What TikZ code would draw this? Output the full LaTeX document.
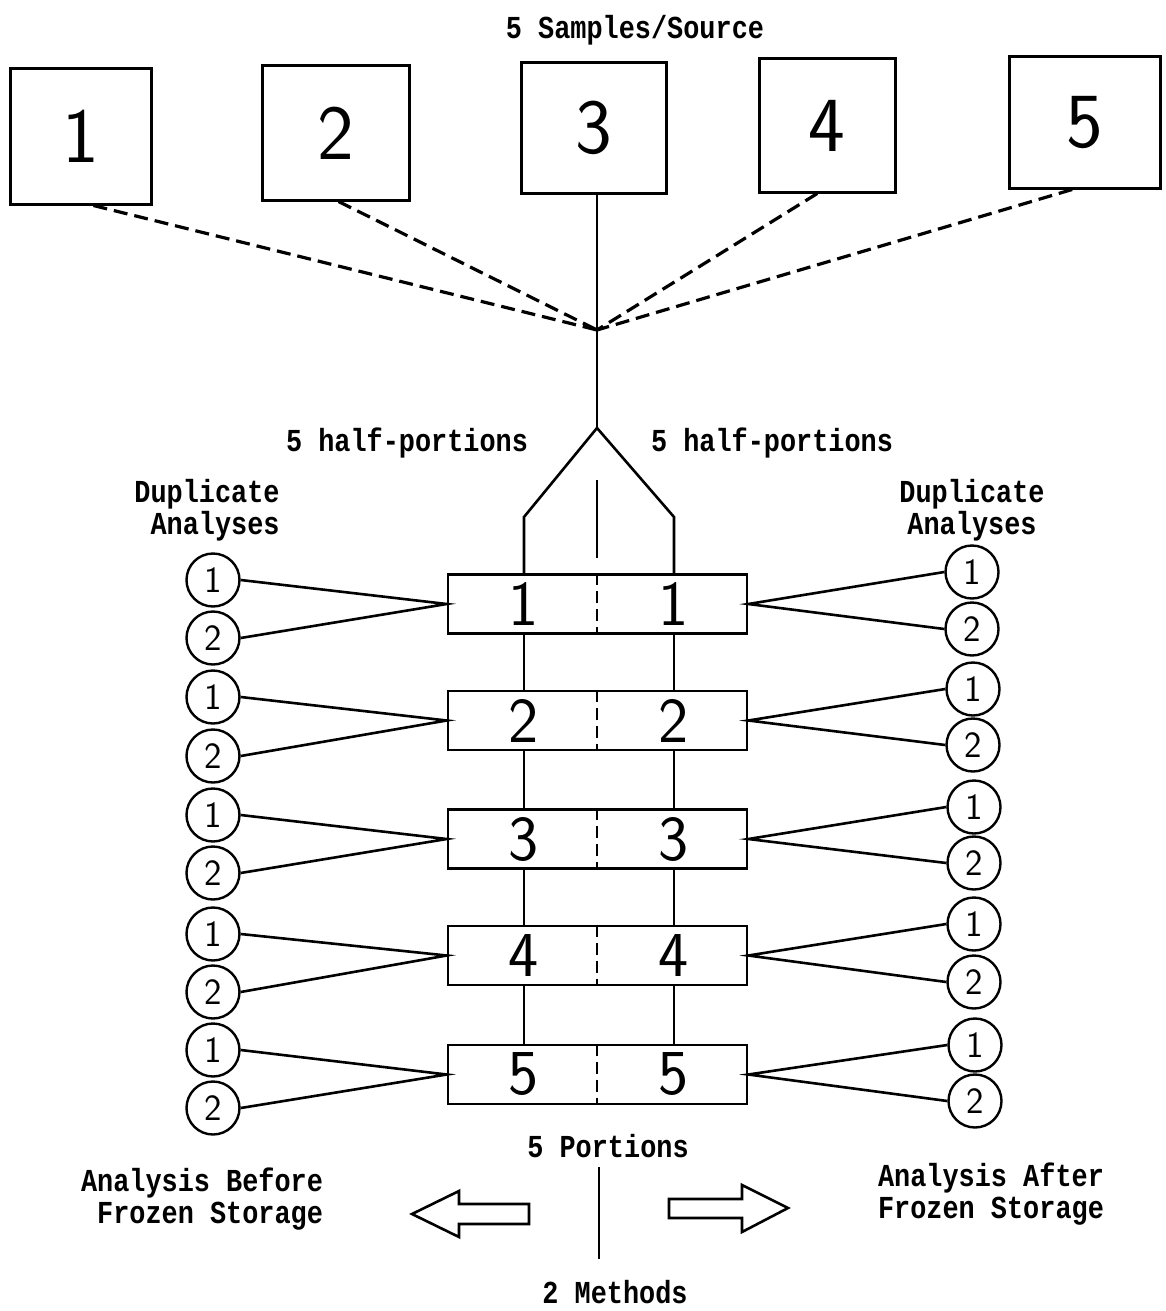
\documentclass[tikz,border=0pt]{standalone}
\usepackage{fontspec}
\usetikzlibrary{calc}
\newfontfamily\twfont{Liberation Mono}[FakeStretch=0.84]
\begin{document}
\begin{tikzpicture}[x=1pt,y=-1pt,
  line join=miter,
  topbox/.style={draw,line width=3pt,inner sep=0pt,font=\sffamily\fontsize{78}{80}\selectfont},
  portbox/.style={draw,line width=2.6pt,inner sep=0pt,minimum width=299pt,minimum height=59pt},
  pdigit/.style={font=\sffamily\fontsize{64}{66}\selectfont,inner sep=0pt},
  circ/.style={draw,circle,line width=2.4pt,minimum size=53pt,inner sep=0pt,font=\sffamily\fontsize{37}{39}\selectfont},
  lab/.style={font=\twfont\bfseries\fontsize{32}{32}\selectfont,inner sep=0pt,align=center},
  conn/.style={line width=2.6pt},
  dashline/.style={line width=3.2pt,dash pattern=on 14pt off 7pt},
  divider/.style={line width=1.8pt,dash pattern=on 12pt off 6pt}]
\useasboundingbox (0,0) rectangle (1165,1311);
\fill[white] (0,0) rectangle (1165,1311);

% title
\node[lab] (title) at (635,30) {5 Samples/Source};

% top sample boxes
\node[topbox,minimum width=141pt,minimum height=135pt] (b1) at (80.5,136.5) {1};
\node[topbox,minimum width=147pt,minimum height=134pt] (b2) at (335.5,133) {2};
\node[topbox,minimum width=145pt,minimum height=130pt] (b3) at (593.5,128) {3};
\node[topbox,minimum width=136pt,minimum height=133pt] (b4) at (827,125.5) {4};
\node[topbox,minimum width=151pt,minimum height=131pt] (b5) at (1084.5,122.5) {5};

% convergence and split
\coordinate (conv) at (597,330);
\coordinate (apex) at (597,428);
\coordinate (lbend) at (524,517);
\coordinate (rbend) at (674,517);
\coordinate (ctop) at (597,480);
\coordinate (cbot) at (597,558);

\draw[dashline] ($(b1.south west)!0.59!(b1.south east)$) -- (conv);
\draw[dashline] ($(b2.south west)!0.52!(b2.south east)$) -- (conv);
\draw[dashline] ($(b4.south west)!0.43!(b4.south east)$) -- (conv);
\draw[dashline] ($(b5.south west)!0.42!(b5.south east)$) -- (conv);
\draw[conn] (b3.south -| conv) -- (conv) -- (apex);

% labels
\node[lab] (hpl) at (407,443) {5 half-portions};
\node[lab] (hpr) at (772,443) {5 half-portions};
\node[lab,align=right] (dupl) at (207,510) {Duplicate\\ Analyses};
\node[lab] (dupr) at (972,510) {Duplicate\\ Analyses};

% portion boxes
\node[portbox] (p1) at (597.5,604) {};
\node[portbox] (p2) at (597.5,720.5) {};
\node[portbox] (p3) at (597.5,839) {};
\node[portbox] (p4) at (597.5,955.5) {};
\node[portbox] (p5) at (597.5,1074.5) {};

\draw[conn] (apex) -- (lbend) -- (lbend |- p1.north);
\draw[conn] (apex) -- (rbend) -- (rbend |- p1.north);
\draw[conn] (ctop) -- (cbot);

\foreach \i in {1,...,5}{
  \draw[divider] (p\i.north -| conv) -- (p\i.south -| conv);
  \node[pdigit] (pl\i) at (p\i.center -| lbend) {\i};
  \node[pdigit] (pr\i) at (p\i.center -| rbend) {\i};
}
\foreach \a/\b in {1/2,2/3,3/4,4/5}{
  \draw[conn] (p\a.south -| lbend) -- (p\b.north -| lbend);
  \draw[conn] (p\a.south -| rbend) -- (p\b.north -| rbend);
}

% left circles
\node[circ] (la1) at (213,580) {1};
\node[circ] (lb1) at (213,638) {2};
\node[circ] (la2) at (213,697) {1};
\node[circ] (lb2) at (213,756) {2};
\node[circ] (la3) at (213,815) {1};
\node[circ] (lb3) at (213,873) {2};
\node[circ] (la4) at (213,934) {1};
\node[circ] (lb4) at (213,992) {2};
\node[circ] (la5) at (213,1050) {1};
\node[circ] (lb5) at (213,1108) {2};
% right circles
\node[circ] (ra1) at (972,572) {1};
\node[circ] (rb1) at (972,629) {2};
\node[circ] (ra2) at (973,689) {1};
\node[circ] (rb2) at (973,745) {2};
\node[circ] (ra3) at (974,807) {1};
\node[circ] (rb3) at (974,863) {2};
\node[circ] (ra4) at (974,924) {1};
\node[circ] (rb4) at (974,982) {2};
\node[circ] (ra5) at (975,1045) {1};
\node[circ] (rb5) at (975,1101) {2};

\foreach \i in {1,...,5}{
  \draw[conn] (la\i.east) -- (p\i.west) -- (lb\i.east);
  \draw[conn] (ra\i.west) -- (p\i.east) -- (rb\i.west);
}

% bottom
\node[lab] (portions) at (608,1146) {5 Portions};
\coordinate (mtop) at (599,1167);
\coordinate (mbot) at (599,1259);
\draw[conn] (mtop) -- (mbot);
\node[lab] (methods) at (615,1292) {2 Methods};
\node[lab,align=right] (before) at (202,1199) {Analysis Before\\Frozen Storage};
\node[lab] (after) at (991,1194) {Analysis After\\Frozen Storage};

\draw[line width=2.6pt] (529,1204) -- (459,1204) -- (459,1191) -- (412,1214) -- (459,1237) -- (459,1224) -- (529,1224) -- cycle;
\draw[line width=2.6pt] (669,1199) -- (742,1199) -- (742,1185) -- (788,1208) -- (742,1232) -- (742,1218) -- (669,1218) -- cycle;
\end{tikzpicture}
\end{document}
